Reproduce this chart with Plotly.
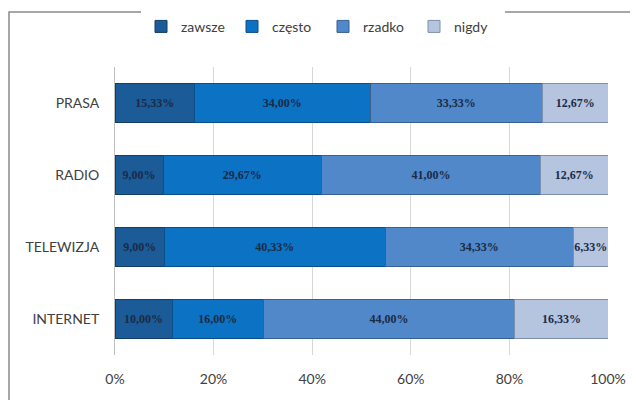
import plotly.graph_objects as go

categories = ["PRASA", "RADIO", "TELEWIZJA", "INTERNET"]
series_names = ["zawsze", "często", "rzadko", "nigdy"]
zawsze = [15.33, 9.00, 9.00, 10.00]
czesto = [34.00, 29.67, 40.33, 16.00]
rzadko = [33.33, 41.00, 34.33, 44.00]
nigdy = [12.67, 12.67, 6.33, 16.33]
x_ticks = [0, 20, 40, 60, 80, 100]
x_tick_labels = ["0%", "20%", "40%", "60%", "80%", "100%"]

values = [zawsze, czesto, rzadko, nigdy]
colors = ["#1b5b97", "#0b72c4", "#5088c9", "#b5c5e0"]
edges = ["#123d66", "#0a4f8a", "#365f92", "#7d8fae"]

fig = go.Figure()
for name, vals, col, edge in zip(series_names, values, colors, edges):
    fig.add_trace(go.Bar(
        y=categories, x=vals, name=name, orientation="h",
        marker=dict(color=col, line=dict(color=edge, width=1)),
        text=["<b>" + f"{v:.2f}".replace(".", ",") + "%</b>" for v in vals],
        textposition="inside", insidetextanchor="middle", textangle=0,
        textfont=dict(family="Liberation Serif", size=12, color="#1b2a45"),
        constraintext="none",
    ))

fig.update_layout(
    width=630, height=392,
    barmode="stack", barnorm="percent", bargap=0.45,
    paper_bgcolor="white", plot_bgcolor="white",
    margin=dict(l=107, r=30, t=59, b=45),
    font=dict(family="Lato", size=14, color="#404040"),
    showlegend=True,
    legend=dict(orientation="h", xref="container", yref="container",
                x=0.5, xanchor="center", y=0.952, yanchor="middle",
                font=dict(family="Lato", size=14, color="#404040"),
                traceorder="normal", itemwidth=30,
                entrywidth=46, entrywidthmode="pixels"),
    xaxis=dict(range=[0, 100], tickvals=x_ticks, ticktext=x_tick_labels,
               showgrid=True, gridcolor="#d6d6d6", gridwidth=1,
               zeroline=False, showline=False, ticks="",
               ticklabelstandoff=14,
               tickfont=dict(family="Lato", size=14, color="#404040")),
    yaxis=dict(autorange="reversed", showgrid=False, ticks="",
               showline=True, linecolor="#bfbfbf", linewidth=1,
               ticklabelstandoff=12,
               tickfont=dict(family="Lato", size=14, color="#404040")),
    shapes=[dict(type="rect", xref="paper", yref="paper",
                 x0=-0.215, x1=1.07, y0=-0.17, y1=1.191,
                 line=dict(color="#8a8a8a", width=1.5), layer="below")],
)

fig.write_html("out.html")
